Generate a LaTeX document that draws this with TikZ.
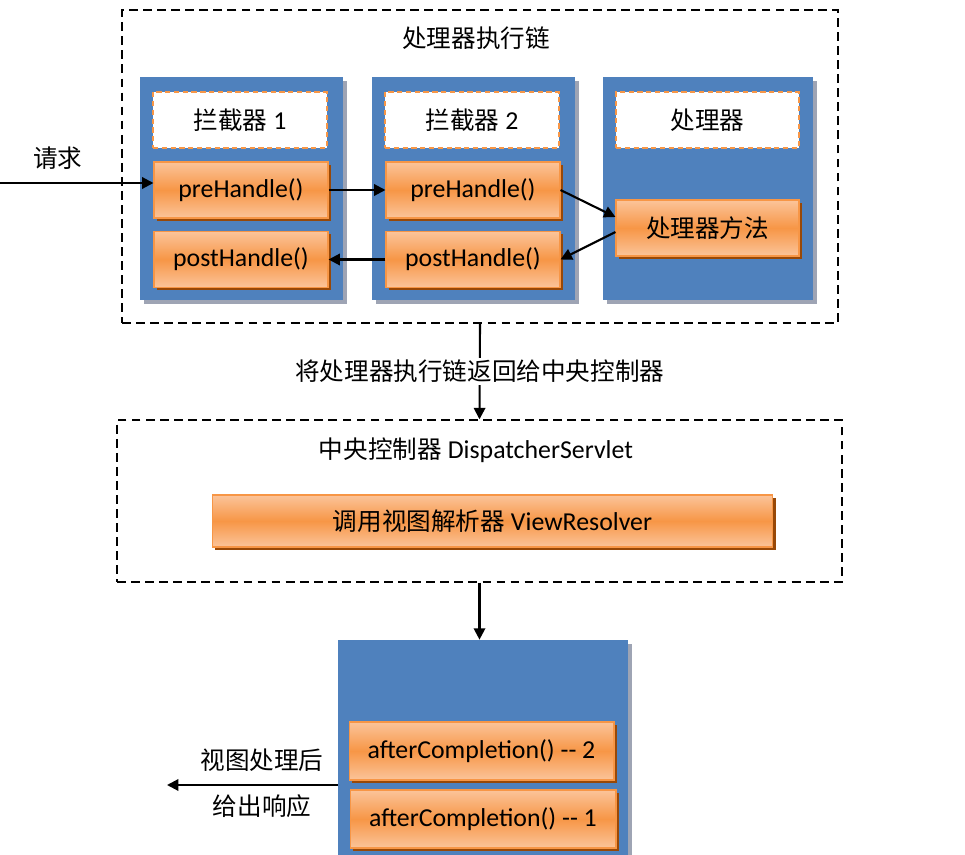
\documentclass[tikz,border=0pt]{standalone}
\usepackage{fontspec}
\setmainfont[Scale=1.05]{Carlito}
\newfontfamily\cjk{Noto Sans CJK SC}
\usetikzlibrary{arrows.meta,shadows,calc}
\definecolor{bluF}{HTML}{4F81BD}
\definecolor{bluS}{HTML}{9EA4B4}
\definecolor{orgD}{HTML}{F79646}
\definecolor{orgL}{HTML}{FBC49A}
\definecolor{orgM}{HTML}{F79646}
\definecolor{orgS}{HTML}{984807}
\begin{document}
\begin{tikzpicture}[x=0.02cm, y=-0.02cm, font=\fontsize{14}{17}\selectfont,
    >={Triangle[length=6.5pt, width=6.5pt]},
    grp/.style={draw, dash pattern=on 5pt off 3pt, line width=0.8pt, inner sep=0pt},
    blu/.style={fill=bluF, inner sep=0pt, drop shadow={shadow xshift=2.2pt, shadow yshift=-2.2pt, fill=bluS, opacity=1}},
    ttl/.style={draw=orgD, dash pattern=on 3pt off 2pt, line width=1.1pt, fill=white, minimum width=3.48cm, minimum height=1.12cm},
    fn/.style={draw=orgD, line width=0.6pt, top color=orgL, bottom color=orgL, middle color=orgM, minimum width=3.48cm, minimum height=1.12cm, drop shadow={shadow xshift=1.7pt, shadow yshift=-1.7pt, fill=orgS, opacity=1}},
    lnk/.style={->, line width=1.2pt},
    lbl/.style={inner sep=1pt},
  ]
  \useasboundingbox (0,0) rectangle (965,855);
  % handler execution chain
  \node[grp, minimum width=14.32cm, minimum height=6.26cm] (chain) at (480,166.5) {};
  \node[lbl] (chainT) at (476,38) {\cjk 处理器执行链};
  \node[blu, minimum width=4.06cm, minimum height=4.46cm] (b1) at (241.5,188.5) {};
  \node[blu, minimum width=4.06cm, minimum height=4.46cm] (b2) at (473.5,188.5) {};
  \node[blu, minimum width=4.2cm, minimum height=4.46cm] (b3) at (708,188.5) {};
  \node[ttl] (t1) at (240,120) {{\cjk 拦截器} 1};
  \node[ttl] (t2) at (472,120) {{\cjk 拦截器} 2};
  \node[ttl, minimum width=3.66cm] (t3) at (707.5,120) {\cjk 处理器};
  \node[fn] (pre1) at (241,190) {preHandle()};
  \node[fn] (post1) at (241,259.5) {postHandle()};
  \node[fn] (pre2) at (473,190) {preHandle()};
  \node[fn] (post2) at (473,259.5) {postHandle()};
  \node[fn, minimum width=3.66cm] (meth) at (707.5,228) {\cjk 处理器方法};
  \coordinate (req) at (0,183);
  \node[lbl] (reqT) at (58,158) {\cjk 请求};
  \draw[lnk] (req) -- (req -| pre1.west);
  \draw[lnk] (pre1.east) -- (pre2.west);
  \draw[lnk] (pre2.east) -- ($(meth.west)+(0,-11)$);
  \draw[lnk] ($(meth.west)+(0,4)$) -- (post2.east);
  \draw[lnk] (post2.west) -- (post1.east);
  % dispatcher
  \node[grp, minimum width=14.5cm, minimum height=3.24cm] (disp) at (479.5,501) {};
  \node[lbl] (dispT) at (476,450) {{\cjk 中央控制器} DispatcherServlet};
  \node[fn, minimum width=11.22cm, minimum height=1.04cm] (vr) at (492.5,521) {{\cjk 调用视图解析器} ViewResolver};
  \draw[lnk] (chain.south) -- (disp.north) node[lbl, midway, fill=white] (backT) {\cjk 将处理器执行链返回给中央控制器};
  % completion
  \node[blu, minimum width=5.8cm, minimum height=4.3cm] (b4) at (483,747.5) {};
  \node[fn, minimum width=5.3cm, minimum height=1.16cm] (ac2) at (481.5,751) {afterCompletion() -{}- 2};
  \node[fn, minimum width=5.32cm, minimum height=1.16cm] (ac1) at (483,819) {afterCompletion() -{}- 1};
  \draw[lnk] (disp.south) -- (disp.south |- b4.north);
  \coordinate (resp) at (167,785);
  \draw[lnk] (b4.west |- resp) -- (resp);
  \node[lbl] (respA) at (262,760) {\cjk 视图处理后};
  \node[lbl] (respB) at (262,806) {\cjk 给出响应};
\end{tikzpicture}
\end{document}
